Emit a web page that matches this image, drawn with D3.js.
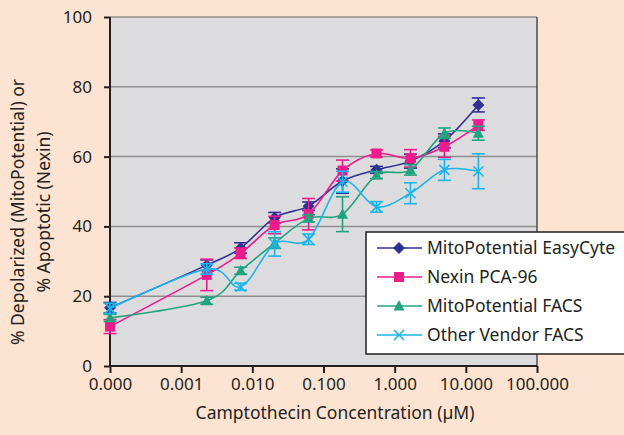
<!DOCTYPE html>
<html>
<head>
<meta charset="utf-8">
<script src="https://cdn.jsdelivr.net/npm/d3@7"></script>
<style>
  body { margin: 0; background: #fde4d2; overflow: hidden; }
  svg { display: block; }
  text { font-family: "Noto Sans", sans-serif; fill: #231f20; }
</style>
</head>
<body>
<svg id="chart" width="624" height="435"></svg>
<script>
// concentrations (µM); 0 is drawn at 0.0001 on the log axis
var conc = [0.0001, 0.00229, 0.00686, 0.0206, 0.0617, 0.185, 0.556, 1.667, 5, 15];

var easyCyte    = [16.7, 28.9, 33.8, 42.5, 45.8, 53.0, 56.2, 58.7, 64.5, 74.8];
var easyCyteErr = [1.5, 1.5, 1.5, 1.5, 1.2, 3.5, 1.0, 2.0, 2.0, 2.0];
var nexin       = [11.3, 26.1, 32.3, 40.4, 43.5, 56.0, 60.9, 59.5, 62.8, 69.0];
var nexinErr    = [2.0, 4.5, 1.5, 2.5, 4.5, 3.0, 1.0, 2.5, 3.0, 1.5];
var facs        = [13.8, 18.7, 27.3, 35.2, 42.3, 43.5, 54.7, 56.2, 66.7, 66.7];
var facsErr     = [1.0, 1.0, 1.0, 1.5, 1.0, 5.0, 1.0, 1.5, 1.5, 2.0];
var vendor      = [16.5, 27.8, 22.7, 35.0, 36.3, 52.8, 45.6, 49.5, 56.2, 55.8];
var vendorErr   = [1.5, 1.5, 1.0, 3.5, 1.5, 3.0, 1.5, 3.0, 3.0, 5.0];

var seriesNames = ["MitoPotential EasyCyte", "Nexin PCA-96", "MitoPotential FACS", "Other Vendor FACS"];
var xTicks = [0.0001, 0.001, 0.01, 0.1, 1, 10, 100];
var yTicks = [0, 20, 40, 60, 80, 100];

(function () {
    var series = [
        {name: seriesNames[0], vals: easyCyte, err: easyCyteErr, color: "#2e3192", marker: "diamond"},
        {name: seriesNames[1], vals: nexin,    err: nexinErr,    color: "#ec1c8c", marker: "square"},
        {name: seriesNames[2], vals: facs,     err: facsErr,     color: "#22a37f", marker: "triangle"},
        {name: seriesNames[3], vals: vendor,   err: vendorErr,   color: "#1db4ea", marker: "cross"}
    ];

    var svg = d3.select("#chart"),
        pLeft = 110, pRight = 537, pTop = 17, pBottom = 366;

    var x = d3.scaleLog().domain([0.0001, 100]).range([pLeft, pRight]);
    var y = d3.scaleLinear().domain([0, 100]).range([pBottom, pTop]);

    // plot area
    svg.append("rect")
        .attr("x", pLeft).attr("y", pTop)
        .attr("width", pRight - pLeft).attr("height", pBottom - pTop)
        .attr("fill", "#dcdcde");

    // gridlines (incl. top border)
    svg.append("g").selectAll("line")
        .data(yTicks.filter(function (d) { return d > 0; }))
        .enter().append("line")
        .attr("x1", pLeft).attr("x2", pRight)
        .attr("y1", function (d) { return y(d); })
        .attr("y2", function (d) { return y(d); })
        .attr("stroke", "#8f8f8f")
        .attr("stroke-width", 1.5);

    svg.append("line")
        .attr("x1", pRight).attr("x2", pRight).attr("y1", pTop).attr("y2", pBottom)
        .attr("stroke", "#4d4d4d").attr("stroke-width", 1.5);

    // axes
    var xAxis = svg.append("g")
        .attr("transform", "translate(0," + pBottom + ")")
        .call(d3.axisBottom(x).tickValues(xTicks).tickSize(7).tickPadding(5)
            .tickFormat(function (d) { return d3.format(".3f")(d); }));
    var yAxis = svg.append("g")
        .attr("transform", "translate(" + pLeft + ",0)")
        .call(d3.axisLeft(y).tickValues(yTicks).tickSize(6).tickPadding(12));

    [xAxis, yAxis].forEach(function (a) {
        a.select(".domain").attr("stroke", "#231f20").attr("stroke-width", 2);
        a.selectAll(".tick line").attr("stroke", "#231f20").attr("stroke-width", 2);
        a.selectAll(".tick text").attr("font-size", 17).attr("fill", "#231f20")
            .style("font-family", "'Noto Sans', sans-serif");
    });
    yAxis.select(".domain").attr("d", "M0," + pBottom + "V" + pTop);
    xAxis.select(".domain").attr("d", "M" + pLeft + ",0H" + pRight);

    // axis titles
    svg.append("text")
        .attr("x", 335).attr("y", 419)
        .attr("text-anchor", "middle").attr("font-size", 17.5)
        .text("Camptothecin Concentration (µM)");

    var yTitle = svg.append("text")
        .attr("transform", "translate(24,212) rotate(-90)")
        .attr("text-anchor", "middle").attr("font-size", 17.5);
    yTitle.append("tspan").attr("x", 0).attr("dy", 0).text("% Depolarized (MitoPotential) or");
    yTitle.append("tspan").attr("x", 0).attr("dy", 26).text("% Apoptotic (Nexin)");

    function markerPath(type) {
        if (type === "diamond") return "M0,-6L6,0L0,6L-6,0Z";
        if (type === "square") return "M-5,-5H5V5H-5Z";
        if (type === "triangle") return "M0,-6L5.5,4.5H-5.5Z";
        return "M-5,-5L5,5M5,-5L-5,5";
    }

    function drawMarker(g, type, color) {
        if (type === "cross") {
            g.append("path").attr("d", markerPath(type))
                .attr("stroke", color).attr("stroke-width", 1.6).attr("fill", "none");
        } else {
            g.append("path").attr("d", markerPath(type)).attr("fill", color);
        }
    }

    var line = d3.line()
        .x(function (d) { return x(d.c); })
        .y(function (d) { return y(d.v); })
        .curve(d3.curveCatmullRom.alpha(0));

    series.forEach(function (s) {
        var pts = conc.map(function (c, i) { return {c: c, v: s.vals[i], e: s.err[i]}; });
        var g = svg.append("g");

        g.append("path")
            .datum(pts)
            .attr("d", line)
            .attr("fill", "none")
            .attr("stroke", s.color)
            .attr("stroke-width", 1.6);

        var eb = g.selectAll(".err").data(pts).enter().append("g");
        eb.append("line")
            .attr("x1", function (d) { return x(d.c); })
            .attr("x2", function (d) { return x(d.c); })
            .attr("y1", function (d) { return y(d.v - d.e); })
            .attr("y2", function (d) { return y(d.v + d.e); });
        eb.append("line")
            .attr("x1", function (d) { return x(d.c) - 6.5; })
            .attr("x2", function (d) { return x(d.c) + 6.5; })
            .attr("y1", function (d) { return y(d.v + d.e); })
            .attr("y2", function (d) { return y(d.v + d.e); });
        eb.append("line")
            .attr("x1", function (d) { return x(d.c) - 6.5; })
            .attr("x2", function (d) { return x(d.c) + 6.5; })
            .attr("y1", function (d) { return y(d.v - d.e); })
            .attr("y2", function (d) { return y(d.v - d.e); });
        eb.selectAll("line").attr("stroke", s.color).attr("stroke-width", 1.6);

        g.selectAll(".pt").data(pts).enter().append("g")
            .attr("transform", function (d) { return "translate(" + x(d.c) + "," + y(d.v) + ")"; })
            .each(function () { drawMarker(d3.select(this), s.marker, s.color); });
    });

    // legend (runs off the right edge like the original)
    var legend = svg.append("g");
    legend.append("rect")
        .attr("x", 366).attr("y", 232).attr("width", 280).attr("height", 122)
        .attr("fill", "#ffffff").attr("stroke", "#231f20").attr("stroke-width", 1.5);

    var rows = legend.selectAll(".row").data(series).enter().append("g")
        .attr("transform", function (d, i) { return "translate(0," + (248 + i * 29) + ")"; });
    rows.append("line")
        .attr("x1", 377).attr("x2", 422)
        .attr("stroke", function (d) { return d.color; })
        .attr("stroke-width", 1.6);
    rows.append("g").attr("transform", "translate(399,0)")
        .each(function (d) { drawMarker(d3.select(this), d.marker, d.color); });
    rows.append("text")
        .attr("x", 427).attr("dy", "0.35em").attr("font-size", 17.5)
        .text(function (d) { return d.name; });
})();
</script>
</body>
</html>
